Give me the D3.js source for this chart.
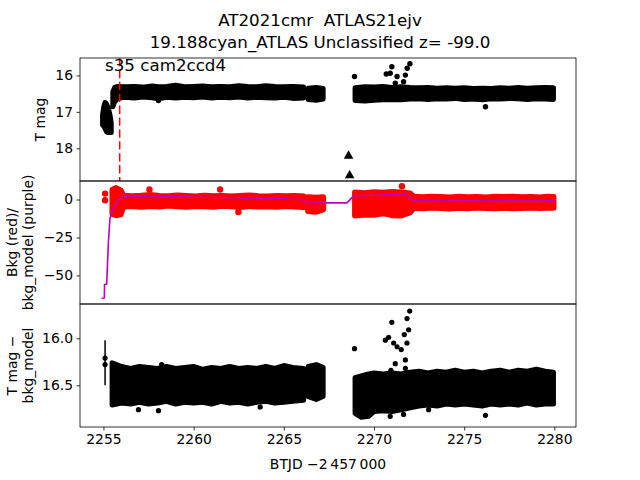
<!DOCTYPE html>
<html lang="en">

<head>
     <title>AT2021cmr light curve</title>
     <meta charset="UTF-8">
     <script src="https://d3js.org/d3.v7.min.js"></script>
</head>

<body>
     <style>
          body {
               margin: 0;
               padding: 0;
               background: white;
          }

          text {
               font-family: "DejaVu Sans", sans-serif;
               white-space: pre;
          }
     </style>

     <script>
          // ---- data ----
          const xTicks = [2255, 2260, 2265, 2270, 2275, 2280]
          const magTicks = [16, 17, 18]
          const bkgTicks = [0, -25, -50]
          const diffTicks = [16.0, 16.5]

          // dense photometry cloud, panel 1: [BTJD, bright edge, faint edge]; null = gap
          const magBand = [
               [2254.95, 17.08, 17.36], [2255.02, 16.85, 17.40], [2255.09, 16.74, 17.45],
               [2255.17, 16.78, 17.55], [2255.27, 16.90, 17.57], [2255.37, 17.10, 17.57],
               [2255.43, 17.30, 17.57], null,
               [2255.52, 16.45, 16.86], [2255.62, 16.33, 16.72], [2255.8, 16.30, 16.63],
               [2256.2, 16.31, 16.60], [2256.7, 16.30, 16.62], [2257.2, 16.32, 16.59],
               [2257.7, 16.29, 16.61], [2258.05, 16.31, 16.64], [2258.5, 16.30, 16.60],
               [2259.0, 16.27, 16.62], [2259.5, 16.31, 16.60], [2260.0, 16.30, 16.61],
               [2260.5, 16.29, 16.59], [2261.0, 16.31, 16.62], [2261.5, 16.30, 16.60],
               [2262.0, 16.31, 16.61], [2262.5, 16.28, 16.59], [2263.0, 16.30, 16.62],
               [2263.5, 16.31, 16.60], [2264.0, 16.28, 16.61], [2264.5, 16.30, 16.62],
               [2265.0, 16.31, 16.60], [2265.5, 16.30, 16.63], [2266.1, 16.32, 16.62], null,
               [2266.35, 16.35, 16.66], [2266.8, 16.33, 16.68], [2267.18, 16.36, 16.65], null,
               [2268.95, 16.34, 16.69], [2269.5, 16.31, 16.70], [2270.0, 16.32, 16.68],
               [2270.5, 16.30, 16.67], [2271.0, 16.33, 16.66], [2271.5, 16.31, 16.67],
               [2272.0, 16.33, 16.65], [2272.5, 16.34, 16.64], [2273.0, 16.33, 16.66],
               [2273.5, 16.35, 16.64], [2274.0, 16.34, 16.65], [2274.5, 16.35, 16.63],
               [2275.0, 16.34, 16.66], [2275.5, 16.36, 16.65], [2276.0, 16.35, 16.67],
               [2276.5, 16.36, 16.64], [2277.0, 16.34, 16.65], [2277.5, 16.35, 16.63],
               [2278.0, 16.33, 16.64], [2278.5, 16.35, 16.66], [2279.0, 16.34, 16.64],
               [2279.5, 16.33, 16.65], [2279.95, 16.34, 16.66]
          ]
          // single points off the cloud, panel 1
          const magOutliers = [
               [2268.92, 16.03], [2270.99, 15.76], [2271.99, 15.68], [2271.84, 15.80],
               [2270.68, 15.96], [2271.28, 16.03], [2271.74, 15.99], [2271.18, 16.21],
               [2271.64, 16.17], [2270.9, 15.94], [2276.18, 16.86], [2258.05, 16.69]
          ]
          // upper limits (triangles)
          const magLimits = [[2268.59, 18.21], [2268.65, 18.75]]
          const sectorLine = 2255.9

          // background flux, panel 2: [BTJD, top, bottom]
          const bkgBand = [
               [2255.5, 6.5, -9.5], [2255.7, 7.5, -10.3], [2255.95, 6.0, -9.8],
               [2256.1, 2.5, -4.6], [2256.6, 2.2, -4.2], [2257.1, 2.5, -4.8],
               [2257.6, 3.0, -4.3], [2258.1, 2.4, -4.6], [2258.6, 2.1, -4.0],
               [2259.1, 2.6, -4.5], [2259.6, 2.3, -4.8], [2260.1, 2.0, -4.2],
               [2260.6, 2.5, -4.4], [2261.1, 2.2, -4.7], [2261.6, 2.4, -4.1],
               [2262.1, 2.0, -4.5], [2262.6, 2.3, -4.9], [2263.1, 2.6, -4.3],
               [2263.6, 2.2, -4.6], [2264.1, 2.0, -4.4], [2264.6, 2.4, -4.7],
               [2265.1, 2.1, -4.3], [2265.6, 2.3, -4.6], [2266.1, 2.0, -5.0], null,
               [2266.35, 1.5, -7.5], [2266.8, 1.2, -8.0], [2267.18, 1.5, -6.5], null,
               [2268.95, 4.6, -10.5], [2269.5, 4.2, -9.8], [2270.0, 4.8, -10.0],
               [2270.5, 4.5, -9.0], [2271.0, 4.9, -10.3], [2271.5, 4.6, -10.5],
               [2272.0, 4.0, -8.5], [2272.2, 1.8, -5.5], [2272.7, 1.5, -5.8],
               [2273.2, 1.9, -5.3], [2273.7, 1.6, -5.6], [2274.2, 1.4, -5.9],
               [2274.7, 1.8, -5.4], [2275.2, 1.5, -5.7], [2275.7, 1.7, -5.3],
               [2276.2, 1.4, -5.6], [2276.7, 1.8, -5.8], [2277.2, 1.6, -5.4],
               [2277.7, 1.9, -5.7], [2278.2, 1.5, -5.5], [2278.7, 1.7, -5.3],
               [2279.2, 1.4, -5.6], [2279.6, 1.8, -5.4], [2279.95, 1.6, -5.4]
          ]
          const bkgPoints = [
               [2255.09, 3.9], [2255.09, -0.5], [2271.55, 8.8], [2262.48, -8.2],
               [2261.47, 6.6], [2257.55, 6.6]
          ]
          const bkgModel = [
               [2254.9, -65.1], [2255.05, -64.8], [2255.06, -56.0], [2255.18, -55.7],
               [2255.27, -29.0], [2255.36, -12.5], [2255.55, -5.9], [2255.83, -0.5],
               [2256.1, 2.2], [2257.0, 2.3], [2258.0, 2.0], [2259.0, 1.8],
               [2260.4, 1.5], [2262.0, 1.2], [2263.7, 0.7], [2265.0, 0.5],
               [2265.9, 0.0], [2266.3, -1.6], [2267.3, -2.2], [2268.5, -2.2],
               [2268.87, 2.4], [2270.0, 2.8], [2271.36, 3.5], [2271.74, 3.9],
               [2272.1, -0.5], [2272.38, -0.9], [2275.0, -0.8], [2278.0, -0.9],
               [2280.0, -0.9]
          ]

          // background-subtracted magnitude, panel 3: [BTJD, bright edge, faint edge]
          const diffBand = [
               [2255.48, 16.26, 16.71], [2256.0, 16.30, 16.69], [2256.5, 16.32, 16.70],
               [2257.0, 16.30, 16.68], [2257.5, 16.31, 16.70], [2258.0, 16.32, 16.69],
               [2258.5, 16.30, 16.67], [2259.0, 16.32, 16.70], [2259.5, 16.31, 16.68],
               [2260.0, 16.30, 16.69], [2260.5, 16.33, 16.68], [2261.0, 16.31, 16.70],
               [2261.5, 16.32, 16.67], [2262.0, 16.30, 16.69], [2262.5, 16.32, 16.68],
               [2263.0, 16.31, 16.70], [2263.5, 16.32, 16.68], [2264.0, 16.30, 16.67],
               [2264.5, 16.32, 16.69], [2265.0, 16.29, 16.68], [2265.5, 16.31, 16.67],
               [2266.1, 16.32, 16.66], null,
               [2266.35, 16.30, 16.62], [2266.8, 16.28, 16.65], [2267.18, 16.31, 16.62], null,
               [2268.95, 16.42, 16.80], [2269.3, 16.40, 16.84], [2269.7, 16.38, 16.83],
               [2270.0, 16.37, 16.78], [2270.5, 16.38, 16.77], [2271.0, 16.37, 16.78],
               [2271.5, 16.38, 16.76], [2272.0, 16.36, 16.74], [2272.5, 16.35, 16.72],
               [2273.0, 16.37, 16.71], [2273.5, 16.35, 16.72], [2274.0, 16.36, 16.70],
               [2274.5, 16.34, 16.71], [2275.0, 16.36, 16.70], [2275.5, 16.35, 16.71],
               [2276.0, 16.37, 16.72], [2276.5, 16.35, 16.70], [2277.0, 16.34, 16.71],
               [2277.5, 16.36, 16.70], [2278.0, 16.34, 16.71], [2278.5, 16.35, 16.69],
               [2279.0, 16.33, 16.71], [2279.5, 16.35, 16.70], [2279.95, 16.36, 16.70]
          ]
          const diffOutliers = [
               [2255.09, 16.21], [2255.09, 16.28], [2256.94, 16.76], [2258.05, 16.77],
               [2258.23, 16.28], [2268.92, 16.11], [2270.99, 15.83], [2271.98, 15.71],
               [2271.83, 15.79], [2271.92, 15.91], [2271.68, 15.96], [2270.63, 16.02],
               [2270.81, 15.99], [2271.09, 16.05], [2271.28, 16.09], [2271.51, 16.12],
               [2271.83, 16.05], [2271.74, 16.23], [2271.18, 16.27], [2270.94, 16.34],
               [2271.74, 16.32], [2276.18, 16.82], [2270.9, 16.83], [2271.64, 16.81],
               [2273.03, 16.76], [2263.69, 16.73]
          ]
          // [BTJD, top, bottom] error bar on the first epoch
          const diffErr = [[2255.09, 16.02, 16.5]]

          // ---- layout ----
          const width = 640
          const height = 480
          const left = 80, right = 576
          const panels = [[58, 181], [181, 304], [304, 427]]
          const fs = 13.9

          let svg = d3.select("body")
               .append("svg")
               .attr("width", width)
               .attr("height", height)

          let x = d3.scaleLinear().domain([2253.7, 2281.2]).range([left, right])
          let y1 = d3.scaleLinear().domain([15.52, 18.9]).range(panels[0])
          let y2 = d3.scaleLinear().domain([12.2, -68.8]).range(panels[1])
          let y3 = d3.scaleLinear().domain([15.635, 16.944]).range(panels[2])

          panels.forEach((p, i) => {
               svg.append("clipPath").attr("id", "clip" + i)
                    .append("rect")
                    .attr("x", left).attr("y", p[0])
                    .attr("width", right - left).attr("height", p[1] - p[0])
          })

          function band(g, data, y, color, sw) {
               let area = d3.area()
                    .defined(d => d !== null)
                    .x(d => x(d[0]))
                    .y0(d => y(d[1]))
                    .y1(d => y(d[2]))
               g.append("path")
                    .datum(data)
                    .attr("d", area)
                    .attr("fill", color)
                    .attr("stroke", color)
                    .attr("stroke-width", sw)
                    .attr("stroke-linejoin", "round")
          }

          function dots(g, data, y, color, r) {
               g.selectAll(null)
                    .data(data)
                    .join("circle")
                    .attr("cx", d => x(d[0]))
                    .attr("cy", d => y(d[1]))
                    .attr("r", r)
                    .attr("fill", color)
          }

          // panel 1
          let g1 = svg.append("g").attr("clip-path", "url(#clip0)")
          band(g1, magBand, y1, "black", 5)
          dots(g1, magOutliers, y1, "black", 2.7)
          g1.selectAll(null)
               .data(magLimits)
               .join("path")
               .attr("d", d3.symbol(d3.symbolTriangle, 40))
               .attr("transform", d => "translate(" + x(d[0]) + "," + y1(d[1]) + ")")
               .attr("fill", "black")
          g1.append("line")
               .attr("x1", x(sectorLine)).attr("x2", x(sectorLine))
               .attr("y1", panels[0][0]).attr("y2", panels[0][1])
               .attr("stroke", "red")
               .attr("stroke-width", 1.5)
               .attr("stroke-dasharray", "8.3,3.6")

          // panel 2
          let g2 = svg.append("g").attr("clip-path", "url(#clip1)")
          band(g2, bkgBand, y2, "red", 6)
          dots(g2, bkgPoints, y2, "red", 3.2)
          g2.append("path")
               .datum(bkgModel)
               .attr("d", d3.line().x(d => x(d[0])).y(d => y2(d[1])))
               .attr("fill", "none")
               .attr("stroke", "#bf00bf")
               .attr("stroke-width", 1.6)

          // panel 3
          let g3 = svg.append("g").attr("clip-path", "url(#clip2)")
          band(g3, diffBand, y3, "black", 5)
          dots(g3, diffOutliers, y3, "black", 2.6)
          g3.selectAll(null)
               .data(diffErr)
               .join("line")
               .attr("x1", d => x(d[0])).attr("x2", d => x(d[0]))
               .attr("y1", d => y3(d[1])).attr("y2", d => y3(d[2]))
               .attr("stroke", "black")
               .attr("stroke-width", 1.5)

          // axes
          function styleAxis(g) {
               g.select(".domain").remove()
               g.selectAll(".tick line").attr("stroke", "black").attr("stroke-width", 0.8)
               g.selectAll("text")
                    .attr("font-size", fs)
                    .attr("fill", "black")
                    .attr("font-family", "DejaVu Sans")
          }

          svg.append("g")
               .attr("transform", "translate(" + left + ",0)")
               .call(d3.axisLeft(y1).tickValues(magTicks).tickFormat(d3.format("d")).tickSize(3.5).tickPadding(3.5))
               .call(styleAxis)
          svg.append("g")
               .attr("transform", "translate(" + left + ",0)")
               .call(d3.axisLeft(y2).tickValues(bkgTicks).tickFormat(d3.format("d")).tickSize(3.5).tickPadding(3.5))
               .call(styleAxis)
          svg.append("g")
               .attr("transform", "translate(" + left + ",0)")
               .call(d3.axisLeft(y3).tickValues(diffTicks).tickFormat(d3.format(".1f")).tickSize(3.5).tickPadding(3.5))
               .call(styleAxis)
          svg.append("g")
               .attr("transform", "translate(0," + panels[2][1] + ")")
               .call(d3.axisBottom(x).tickValues(xTicks).tickFormat(d3.format("d")).tickSize(3.5).tickPadding(3.5))
               .call(styleAxis)

          panels.forEach(p => {
               svg.append("rect")
                    .attr("x", left).attr("y", p[0])
                    .attr("width", right - left).attr("height", p[1] - p[0])
                    .attr("fill", "none")
                    .attr("stroke", "black")
                    .attr("stroke-width", 0.8)
          })

          // labels
          function ylabel(lines, cx, cy) {
               let t = svg.append("text")
                    .attr("transform", "translate(" + cx + "," + cy + ") rotate(-90)")
                    .attr("text-anchor", "middle")
                    .attr("font-size", fs)
               lines.forEach((s, i) => {
                    t.append("tspan")
                         .attr("x", 0)
                         .attr("dy", i === 0 ? 0 : 16.2)
                         .text(s)
               })
          }
          ylabel(["T mag"], 45, 119.5)
          ylabel(["Bkg (red)/", "bkg_model (purple)"], 17, 242.5)
          ylabel(["T mag \u2212", "bkg_model"], 17, 365.5)

          svg.append("text")
               .attr("x", (left + right) / 2)
               .attr("y", 469)
               .attr("text-anchor", "middle")
               .attr("font-size", fs)
               .text("BTJD \u22122\u2009457\u2009000")

          svg.append("text")
               .attr("x", 320).attr("y", 26)
               .attr("text-anchor", "middle")
               .attr("font-size", 16.7)
               .text("AT2021cmr  ATLAS21ejv")
          svg.append("text")
               .attr("x", 320).attr("y", 48)
               .attr("text-anchor", "middle")
               .attr("font-size", 16.7)
               .text("19.188cyan_ATLAS Unclassified z= -99.0")

          svg.append("text")
               .attr("x", 105).attr("y", 70.5)
               .attr("font-size", 16.7)
               .text("s35 cam2ccd4")
     </script>
</body>

</html>
